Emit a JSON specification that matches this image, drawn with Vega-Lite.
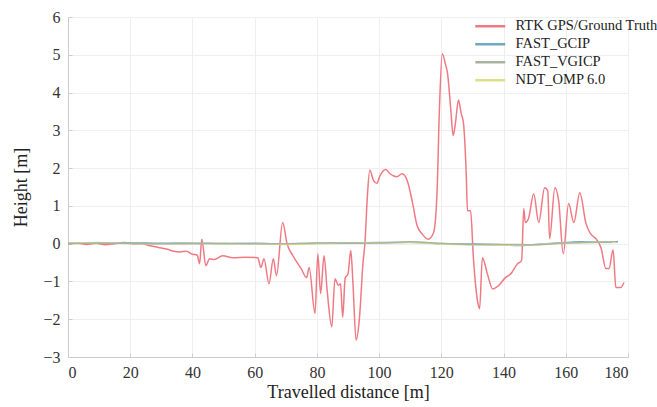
{
  "$schema": "https://vega.github.io/schema/vega-lite/v6.json",
  "width": 560,
  "height": 340,
  "autosize": "none",
  "padding": {"left": 68, "top": 17, "right": 29, "bottom": 50},
  "background": "white",
  "config": {
    "font": "Liberation Serif",
    "view": {"stroke": null},
    "axis": {
      "labelFont": "Liberation Serif",
      "titleFont": "Liberation Serif",
      "labelFontSize": 16,
      "titleFontSize": 18,
      "titleFontWeight": "normal",
      "labelColor": "#333333",
      "titleColor": "#222222",
      "gridColor": "#efefef",
      "domainColor": "#cccccc",
      "tickColor": "#cccccc",
      "tickSize": -4
    },
    "legend": {"labelFont": "Liberation Serif", "labelFontSize": 14.5, "labelColor": "#222222", "labelLimit": 400}
  },
  "data": {
    "values": [
      {"d": 0, "h": 0, "s": "RTK GPS/Ground Truth"},
      {"d": 3, "h": 0.02, "s": "RTK GPS/Ground Truth"},
      {"d": 6, "h": -0.02, "s": "RTK GPS/Ground Truth"},
      {"d": 9, "h": 0.01, "s": "RTK GPS/Ground Truth"},
      {"d": 12, "h": -0.03, "s": "RTK GPS/Ground Truth"},
      {"d": 15, "h": 0.0, "s": "RTK GPS/Ground Truth"},
      {"d": 18, "h": 0.03, "s": "RTK GPS/Ground Truth"},
      {"d": 21, "h": -0.01, "s": "RTK GPS/Ground Truth"},
      {"d": 24, "h": 0.0, "s": "RTK GPS/Ground Truth"},
      {"d": 26, "h": -0.05, "s": "RTK GPS/Ground Truth"},
      {"d": 29, "h": -0.1, "s": "RTK GPS/Ground Truth"},
      {"d": 32, "h": -0.15, "s": "RTK GPS/Ground Truth"},
      {"d": 34, "h": -0.2, "s": "RTK GPS/Ground Truth"},
      {"d": 36, "h": -0.22, "s": "RTK GPS/Ground Truth"},
      {"d": 38, "h": -0.2, "s": "RTK GPS/Ground Truth"},
      {"d": 40, "h": -0.28, "s": "RTK GPS/Ground Truth"},
      {"d": 41.5, "h": -0.3, "s": "RTK GPS/Ground Truth"},
      {"d": 42.3, "h": -0.53, "s": "RTK GPS/Ground Truth"},
      {"d": 43, "h": 0.12, "s": "RTK GPS/Ground Truth"},
      {"d": 44.3, "h": -0.58, "s": "RTK GPS/Ground Truth"},
      {"d": 45.5, "h": -0.4, "s": "RTK GPS/Ground Truth"},
      {"d": 47, "h": -0.42, "s": "RTK GPS/Ground Truth"},
      {"d": 49.7, "h": -0.32, "s": "RTK GPS/Ground Truth"},
      {"d": 53, "h": -0.37, "s": "RTK GPS/Ground Truth"},
      {"d": 57, "h": -0.36, "s": "RTK GPS/Ground Truth"},
      {"d": 61, "h": -0.37, "s": "RTK GPS/Ground Truth"},
      {"d": 62, "h": -0.63, "s": "RTK GPS/Ground Truth"},
      {"d": 63, "h": -0.4, "s": "RTK GPS/Ground Truth"},
      {"d": 64.6, "h": -1.06, "s": "RTK GPS/Ground Truth"},
      {"d": 66, "h": -0.4, "s": "RTK GPS/Ground Truth"},
      {"d": 67, "h": -0.85, "s": "RTK GPS/Ground Truth"},
      {"d": 69, "h": 0.56, "s": "RTK GPS/Ground Truth"},
      {"d": 70.4, "h": 0.0, "s": "RTK GPS/Ground Truth"},
      {"d": 72.3, "h": -0.32, "s": "RTK GPS/Ground Truth"},
      {"d": 75, "h": -0.67, "s": "RTK GPS/Ground Truth"},
      {"d": 76.7, "h": -0.9, "s": "RTK GPS/Ground Truth"},
      {"d": 77.5, "h": -0.63, "s": "RTK GPS/Ground Truth"},
      {"d": 79.4, "h": -1.85, "s": "RTK GPS/Ground Truth"},
      {"d": 80.3, "h": -0.27, "s": "RTK GPS/Ground Truth"},
      {"d": 81.2, "h": -1.32, "s": "RTK GPS/Ground Truth"},
      {"d": 82.3, "h": -0.32, "s": "RTK GPS/Ground Truth"},
      {"d": 83.3, "h": -1.24, "s": "RTK GPS/Ground Truth"},
      {"d": 84.8, "h": -2.2, "s": "RTK GPS/Ground Truth"},
      {"d": 85.8, "h": -0.93, "s": "RTK GPS/Ground Truth"},
      {"d": 86.9, "h": -1.1, "s": "RTK GPS/Ground Truth"},
      {"d": 87.6, "h": -1.06, "s": "RTK GPS/Ground Truth"},
      {"d": 88.3, "h": -1.95, "s": "RTK GPS/Ground Truth"},
      {"d": 89.1, "h": -0.9, "s": "RTK GPS/Ground Truth"},
      {"d": 90, "h": -0.8, "s": "RTK GPS/Ground Truth"},
      {"d": 90.9, "h": -0.18, "s": "RTK GPS/Ground Truth"},
      {"d": 91.6, "h": -1.06, "s": "RTK GPS/Ground Truth"},
      {"d": 92.6, "h": -2.55, "s": "RTK GPS/Ground Truth"},
      {"d": 93.7, "h": -1.95, "s": "RTK GPS/Ground Truth"},
      {"d": 94.8, "h": -0.53, "s": "RTK GPS/Ground Truth"},
      {"d": 95.5, "h": 0.08, "s": "RTK GPS/Ground Truth"},
      {"d": 96.2, "h": 1.22, "s": "RTK GPS/Ground Truth"},
      {"d": 97, "h": 1.95, "s": "RTK GPS/Ground Truth"},
      {"d": 98.2, "h": 1.67, "s": "RTK GPS/Ground Truth"},
      {"d": 99.3, "h": 1.6, "s": "RTK GPS/Ground Truth"},
      {"d": 100.3, "h": 1.8, "s": "RTK GPS/Ground Truth"},
      {"d": 102.2, "h": 1.96, "s": "RTK GPS/Ground Truth"},
      {"d": 103.5, "h": 1.85, "s": "RTK GPS/Ground Truth"},
      {"d": 105.7, "h": 1.77, "s": "RTK GPS/Ground Truth"},
      {"d": 107.4, "h": 1.85, "s": "RTK GPS/Ground Truth"},
      {"d": 109, "h": 1.68, "s": "RTK GPS/Ground Truth"},
      {"d": 110.6, "h": 1.14, "s": "RTK GPS/Ground Truth"},
      {"d": 112.2, "h": 0.48, "s": "RTK GPS/Ground Truth"},
      {"d": 113.8, "h": 0.26, "s": "RTK GPS/Ground Truth"},
      {"d": 115.8, "h": 0.12, "s": "RTK GPS/Ground Truth"},
      {"d": 117.5, "h": 0.29, "s": "RTK GPS/Ground Truth"},
      {"d": 118.6, "h": 1.32, "s": "RTK GPS/Ground Truth"},
      {"d": 119.4, "h": 3.6, "s": "RTK GPS/Ground Truth"},
      {"d": 120.3, "h": 5.03, "s": "RTK GPS/Ground Truth"},
      {"d": 121.3, "h": 4.76, "s": "RTK GPS/Ground Truth"},
      {"d": 122, "h": 4.5, "s": "RTK GPS/Ground Truth"},
      {"d": 123, "h": 3.6, "s": "RTK GPS/Ground Truth"},
      {"d": 123.8, "h": 2.86, "s": "RTK GPS/Ground Truth"},
      {"d": 124.5, "h": 3.17, "s": "RTK GPS/Ground Truth"},
      {"d": 125.5, "h": 3.8, "s": "RTK GPS/Ground Truth"},
      {"d": 126.4, "h": 3.44, "s": "RTK GPS/Ground Truth"},
      {"d": 127.1, "h": 3.2, "s": "RTK GPS/Ground Truth"},
      {"d": 128, "h": 1.85, "s": "RTK GPS/Ground Truth"},
      {"d": 128.4, "h": 0.87, "s": "RTK GPS/Ground Truth"},
      {"d": 129.4, "h": 0.87, "s": "RTK GPS/Ground Truth"},
      {"d": 130.3, "h": -0.37, "s": "RTK GPS/Ground Truth"},
      {"d": 131.6, "h": -1.5, "s": "RTK GPS/Ground Truth"},
      {"d": 132.3, "h": -1.72, "s": "RTK GPS/Ground Truth"},
      {"d": 133.2, "h": -0.37, "s": "RTK GPS/Ground Truth"},
      {"d": 134.8, "h": -0.8, "s": "RTK GPS/Ground Truth"},
      {"d": 136.5, "h": -1.2, "s": "RTK GPS/Ground Truth"},
      {"d": 138.4, "h": -1.11, "s": "RTK GPS/Ground Truth"},
      {"d": 140.6, "h": -0.9, "s": "RTK GPS/Ground Truth"},
      {"d": 142.3, "h": -0.8, "s": "RTK GPS/Ground Truth"},
      {"d": 144.5, "h": -0.53, "s": "RTK GPS/Ground Truth"},
      {"d": 145.8, "h": -0.45, "s": "RTK GPS/Ground Truth"},
      {"d": 146.5, "h": 0.93, "s": "RTK GPS/Ground Truth"},
      {"d": 147, "h": 0.56, "s": "RTK GPS/Ground Truth"},
      {"d": 148, "h": 0.66, "s": "RTK GPS/Ground Truth"},
      {"d": 149.7, "h": 1.32, "s": "RTK GPS/Ground Truth"},
      {"d": 151.3, "h": 0.56, "s": "RTK GPS/Ground Truth"},
      {"d": 153.2, "h": 1.48, "s": "RTK GPS/Ground Truth"},
      {"d": 154.2, "h": 1.4, "s": "RTK GPS/Ground Truth"},
      {"d": 154.8, "h": 0.13, "s": "RTK GPS/Ground Truth"},
      {"d": 156.5, "h": 1.48, "s": "RTK GPS/Ground Truth"},
      {"d": 157.7, "h": 1.14, "s": "RTK GPS/Ground Truth"},
      {"d": 159.2, "h": -0.27, "s": "RTK GPS/Ground Truth"},
      {"d": 160.9, "h": 1.06, "s": "RTK GPS/Ground Truth"},
      {"d": 162.6, "h": 0.56, "s": "RTK GPS/Ground Truth"},
      {"d": 164.5, "h": 1.35, "s": "RTK GPS/Ground Truth"},
      {"d": 166.5, "h": 0.53, "s": "RTK GPS/Ground Truth"},
      {"d": 168, "h": 0.26, "s": "RTK GPS/Ground Truth"},
      {"d": 169.7, "h": 0.13, "s": "RTK GPS/Ground Truth"},
      {"d": 171.3, "h": -0.1, "s": "RTK GPS/Ground Truth"},
      {"d": 172.9, "h": -0.66, "s": "RTK GPS/Ground Truth"},
      {"d": 173.9, "h": -0.66, "s": "RTK GPS/Ground Truth"},
      {"d": 175.2, "h": -0.16, "s": "RTK GPS/Ground Truth"},
      {"d": 176.1, "h": -1.16, "s": "RTK GPS/Ground Truth"},
      {"d": 177.7, "h": -1.16, "s": "RTK GPS/Ground Truth"},
      {"d": 178.7, "h": -1.03, "s": "RTK GPS/Ground Truth"},

      {"d": 0, "h": 0.02, "s": "FAST_GCIP"},
      {"d": 10, "h": 0.01, "s": "FAST_GCIP"},
      {"d": 20, "h": 0.02, "s": "FAST_GCIP"},
      {"d": 30, "h": 0.01, "s": "FAST_GCIP"},
      {"d": 40, "h": 0.02, "s": "FAST_GCIP"},
      {"d": 50, "h": 0.0, "s": "FAST_GCIP"},
      {"d": 60, "h": 0.01, "s": "FAST_GCIP"},
      {"d": 70, "h": -0.01, "s": "FAST_GCIP"},
      {"d": 80, "h": 0.01, "s": "FAST_GCIP"},
      {"d": 90, "h": 0.02, "s": "FAST_GCIP"},
      {"d": 100, "h": 0.03, "s": "FAST_GCIP"},
      {"d": 110, "h": 0.04, "s": "FAST_GCIP"},
      {"d": 120, "h": 0.0, "s": "FAST_GCIP"},
      {"d": 130, "h": -0.01, "s": "FAST_GCIP"},
      {"d": 140, "h": -0.03, "s": "FAST_GCIP"},
      {"d": 145, "h": -0.05, "s": "FAST_GCIP"},
      {"d": 150, "h": -0.02, "s": "FAST_GCIP"},
      {"d": 160, "h": 0.03, "s": "FAST_GCIP"},
      {"d": 165, "h": 0.05, "s": "FAST_GCIP"},
      {"d": 170, "h": 0.04, "s": "FAST_GCIP"},
      {"d": 176.8, "h": 0.05, "s": "FAST_GCIP"},

      {"d": 0, "h": 0.01, "s": "NDT_OMP 6.0"},
      {"d": 10, "h": 0.03, "s": "NDT_OMP 6.0"},
      {"d": 20, "h": 0.0, "s": "NDT_OMP 6.0"},
      {"d": 30, "h": 0.0, "s": "NDT_OMP 6.0"},
      {"d": 40, "h": 0.01, "s": "NDT_OMP 6.0"},
      {"d": 50, "h": 0.0, "s": "NDT_OMP 6.0"},
      {"d": 60, "h": 0.0, "s": "NDT_OMP 6.0"},
      {"d": 70, "h": -0.02, "s": "NDT_OMP 6.0"},
      {"d": 80, "h": 0.0, "s": "NDT_OMP 6.0"},
      {"d": 90, "h": 0.01, "s": "NDT_OMP 6.0"},
      {"d": 100, "h": 0.02, "s": "NDT_OMP 6.0"},
      {"d": 110, "h": 0.03, "s": "NDT_OMP 6.0"},
      {"d": 120, "h": -0.01, "s": "NDT_OMP 6.0"},
      {"d": 130, "h": -0.03, "s": "NDT_OMP 6.0"},
      {"d": 140, "h": -0.04, "s": "NDT_OMP 6.0"},
      {"d": 150, "h": -0.03, "s": "NDT_OMP 6.0"},
      {"d": 160, "h": 0.02, "s": "NDT_OMP 6.0"},
      {"d": 170, "h": 0.03, "s": "NDT_OMP 6.0"},
      {"d": 176, "h": 0.03, "s": "NDT_OMP 6.0"},

      {"d": 0, "h": 0.0, "s": "FAST_VGICP"},
      {"d": 10, "h": 0.02, "s": "FAST_VGICP"},
      {"d": 20, "h": 0.01, "s": "FAST_VGICP"},
      {"d": 30, "h": 0.0, "s": "FAST_VGICP"},
      {"d": 40, "h": 0.0, "s": "FAST_VGICP"},
      {"d": 50, "h": 0.01, "s": "FAST_VGICP"},
      {"d": 60, "h": 0.0, "s": "FAST_VGICP"},
      {"d": 70, "h": 0.0, "s": "FAST_VGICP"},
      {"d": 80, "h": 0.02, "s": "FAST_VGICP"},
      {"d": 90, "h": 0.01, "s": "FAST_VGICP"},
      {"d": 100, "h": 0.02, "s": "FAST_VGICP"},
      {"d": 110, "h": 0.05, "s": "FAST_VGICP"},
      {"d": 120, "h": 0.01, "s": "FAST_VGICP"},
      {"d": 130, "h": -0.02, "s": "FAST_VGICP"},
      {"d": 140, "h": -0.02, "s": "FAST_VGICP"},
      {"d": 150, "h": -0.03, "s": "FAST_VGICP"},
      {"d": 160, "h": 0.02, "s": "FAST_VGICP"},
      {"d": 170, "h": 0.04, "s": "FAST_VGICP"},
      {"d": 175, "h": 0.04, "s": "FAST_VGICP"}
    ]
  },
  "mark": {"type": "line", "strokeWidth": 1.5, "interpolate": "monotone"},
  "encoding": {
    "x": {
      "field": "d",
      "type": "quantitative",
      "scale": {"domain": [0, 180], "nice": false},
      "axis": {"values": [0, 20, 40, 60, 80, 100, 120, 140, 160, 180], "title": "Travelled distance [m]", "titlePadding": 3, "labelPadding": 11, "grid": true}
    },
    "y": {
      "field": "h",
      "type": "quantitative",
      "scale": {"domain": [-3, 6], "nice": false},
      "axis": {"values": [-3, -2, -1, 0, 1, 2, 3, 4, 5, 6], "title": "Height [m]", "titlePadding": 12, "labelPadding": 12, "grid": true}
    },
    "color": {
      "field": "s",
      "type": "nominal",
      "scale": {
        "domain": ["RTK GPS/Ground Truth", "FAST_GCIP", "FAST_VGICP", "NDT_OMP 6.0"],
        "range": ["#ef7a84", "#6fa8c0", "#a8b4a0", "#dedf88"]
      },
      "legend": {
        "title": null,
        "orient": "none",
        "legendX": 415,
        "legendY": 2,
        "symbolType": "M-3,0L3,0",
        "symbolSize": 100,
        "symbolStrokeWidth": 2.5,
        "rowPadding": 3,
        "labelOffset": 18
      }
    },
    "order": {"field": "s"}
  }
}
